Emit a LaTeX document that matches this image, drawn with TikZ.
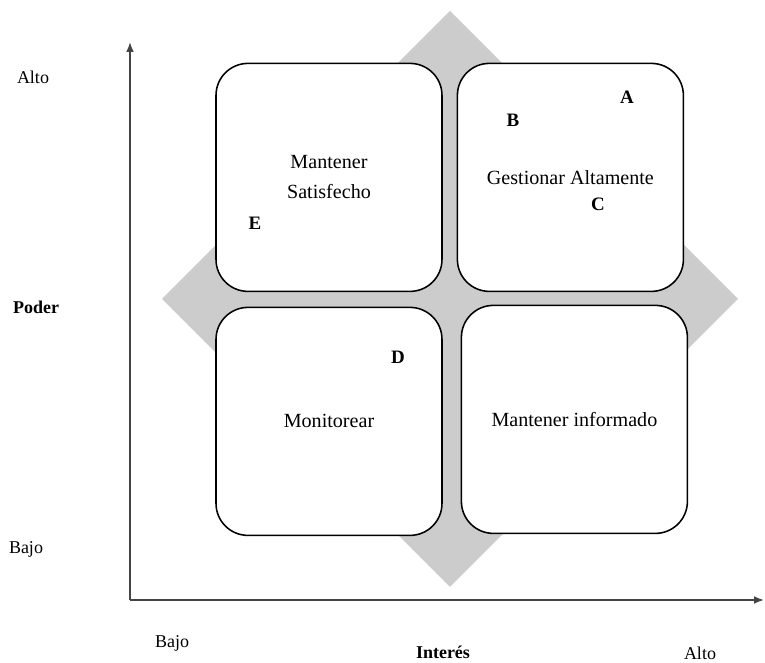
\documentclass[tikz,border=0pt]{standalone}
\usepackage{fontspec}
\setmainfont{Liberation Serif}
\usetikzlibrary{arrows.meta}
\definecolor{diamondgray}{HTML}{CCCCCC}
\definecolor{axisgray}{HTML}{444444}
\tikzset{
  quadrant/.style={draw,line width=1.1pt,rounded corners=0.8cm,fill=white,
    minimum width=5.65cm,minimum height=5.7cm,align=center,
    font=\fontsize{14.3}{21.3}\selectfont},
  party/.style={font=\fontsize{13.5}{16}\selectfont\bfseries},
  axislabel/.style={font=\fontsize{12.8}{15}\selectfont},
}

\begin{document}
\begin{tikzpicture}
  \useasboundingbox (0,0) rectangle (19.125,16.575);
  % Gray diamond behind the grid
  \coordinate (dtop)   at (11.25,16.3);
  \coordinate (dright) at (18.45,9.1);
  \coordinate (dbot)   at (11.25,1.9);
  \coordinate (dleft)  at (4.05,9.1);
  \fill[diamondgray] (dtop) -- (dright) -- (dbot) -- (dleft) -- cycle;
  % Axes
  \coordinate (O)    at (3.25,1.575);
  \coordinate (ytop) at (3.25,15.525);
  \coordinate (xend) at (19.1,1.575);
  \draw[axisgray,line width=1.2pt,-{Latex[length=7pt,width=5.5pt]}] (O) -- (ytop);
  \draw[axisgray,line width=1.2pt,-{Latex[length=7pt,width=5.5pt]}] (O) -- (xend);
  % Quadrants
  \node[quadrant] (satisfied) at (8.225,12.14)  {Mantener\\Satisfecho};
  \node[quadrant] (manage)    at (14.26,12.14)  {Gestionar Altamente};
  \node[quadrant] (monitor)   at (8.225,6.04)   {Monitorear};
  \node[quadrant] (inform)    at (14.36,6.09)   {Mantener informado};
  % Stakeholders
  \node[party] (A) at (15.675,14.15) {A};
  \node[party] (B) at (12.825,13.575) {B};
  \node[party] (C) at (14.95,11.475) {C};
  \node[party] (D) at (9.95,7.65) {D};
  \node[party] (E) at (6.375,11.0) {E};
  % Axis labels
  \node[axislabel]            (yhigh) at (0.825,14.65) {Alto};
  \node[axislabel,font=\fontsize{12.8}{15}\selectfont\bfseries]
                              (power) at (0.9,8.9)   {Poder};
  \node[axislabel]            (ylow)  at (0.65,2.85) {Bajo};
  \node[axislabel]            (xlow)  at (4.3,0.5)   {Bajo};
  \node[axislabel,font=\fontsize{12.8}{15}\selectfont\bfseries]
                              (interest) at (11.075,0.27) {Interés};
  \node[axislabel]            (xhigh) at (17.5,0.25) {Alto};
\end{tikzpicture}
\end{document}
